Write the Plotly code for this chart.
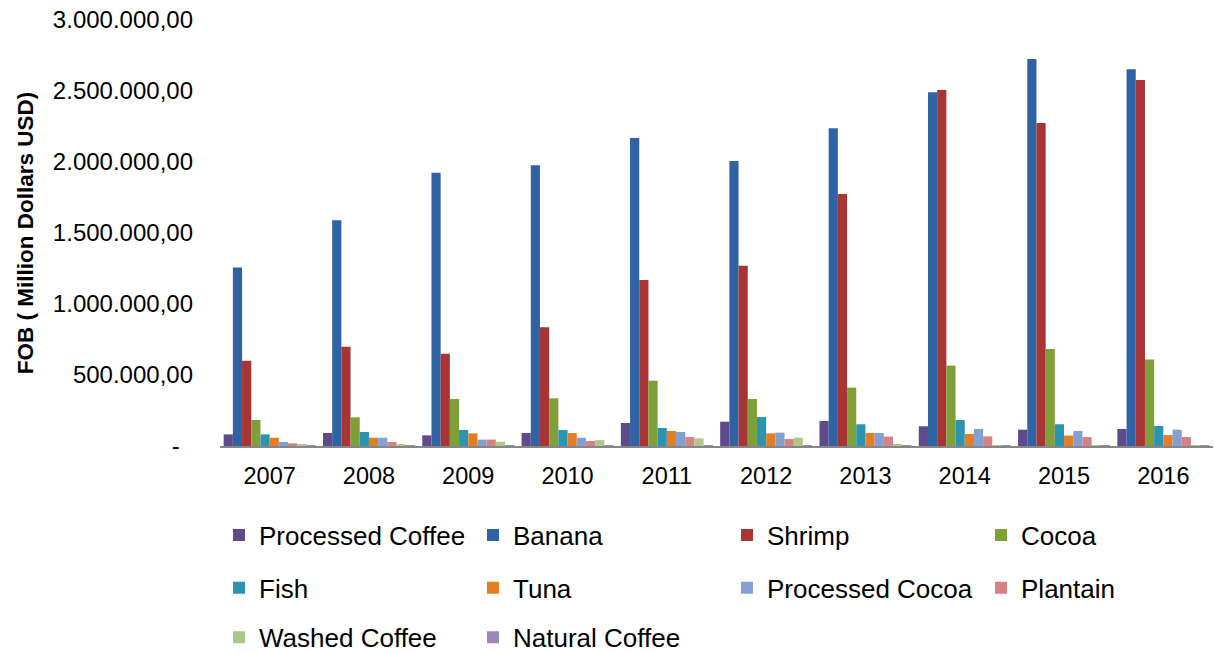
import plotly.graph_objects as go

years = ["2007", "2008", "2009", "2010", "2011", "2012", "2013", "2014", "2015", "2016"]

processed_coffee = [82000, 92000, 75000, 92000, 162000, 171000, 176000, 139000, 115000, 120000]
banana = [1257000, 1589000, 1925000, 1977000, 2169000, 2007000, 2237000, 2491000, 2725000, 2653000]
shrimp = [601000, 699000, 650000, 836000, 1169000, 1270000, 1775000, 2507000, 2275000, 2577000]
cocoa = [183000, 202000, 331000, 336000, 460000, 331000, 411000, 566000, 683000, 610000]
fish = [82000, 99000, 113000, 113000, 127000, 204000, 153000, 183000, 153000, 141000]
tuna = [58000, 58000, 89000, 92000, 106000, 89000, 92000, 85000, 73000, 77000]
processed_cocoa = [28000, 58000, 45000, 58000, 99000, 94000, 92000, 120000, 106000, 115000]
plantain = [19000, 28000, 45000, 35000, 63000, 49000, 66000, 68000, 63000, 63000]
washed_coffee = [8000, 8000, 30000, 42000, 54000, 58000, 14000, 7000, 5000, 3000]
natural_coffee = [2000, 2000, 2000, 2000, 2000, 2000, 2000, 1000, 1000, 1000]

series = [
    ("Processed Coffee", processed_coffee, "#5F4A8A", "legend"),
    ("Banana", banana, "#2F63A4", "legend"),
    ("Shrimp", shrimp, "#A83434", "legend"),
    ("Cocoa", cocoa, "#7FA038", "legend"),
    ("Fish", fish, "#2A94B2", "legend2"),
    ("Tuna", tuna, "#E57E22", "legend2"),
    ("Processed Cocoa", processed_cocoa, "#84A0D2", "legend2"),
    ("Plantain", plantain, "#D38383", "legend2"),
    ("Washed Coffee", washed_coffee, "#ADC98A", "legend3"),
    ("Natural Coffee", natural_coffee, "#9C89B8", "legend3"),
]

y_tickvals = [0, 500000, 1000000, 1500000, 2000000, 2500000, 3000000]
y_ticktext = ["-\u00a0\u00a0", "500.000,00", "1.000.000,00", "1.500.000,00",
              "2.000.000,00", "2.500.000,00", "3.000.000,00"]

FONT = "Liberation Sans, Arial, sans-serif"

fig = go.Figure()
for name, vals, color, lg in series:
    fig.add_trace(go.Bar(x=years, y=vals, name=name, marker=dict(color=color, line=dict(width=0)),
                         legend=lg))

legend_common = dict(orientation="h", xanchor="left", yanchor="middle", x=-0.001,
                     entrywidth=209, entrywidthmode="pixels",
                     font=dict(family=FONT, size=26, color="#000000"),
                     bgcolor="rgba(0,0,0,0)", traceorder="normal")

fig.update_layout(
    width=1215, height=653,
    margin=dict(l=220, r=2, t=20, b=207, autoexpand=False),
    paper_bgcolor="white", plot_bgcolor="white",
    barmode="group", bargap=0.074, bargroupgap=0,
    font=dict(family=FONT, color="#000000"),
    xaxis=dict(showline=True, linecolor="#868686", linewidth=2, ticks="", showgrid=False,
               tickfont=dict(size=23.5, family=FONT), ticklabelstandoff=8, zeroline=False),
    yaxis=dict(range=[0, 3000000], tickvals=y_tickvals, ticktext=y_ticktext, showgrid=False,
               zeroline=False, showline=False, ticks="", tickfont=dict(size=24, family=FONT),
               ticklabelstandoff=26,
               title=dict(text="<b>FOB ( Million Dollars USD)</b>", font=dict(size=22.5, family=FONT),
                          standoff=12)),
    legend=dict(legend_common, y=-0.209),
    legend2=dict(legend_common, y=-0.333),
    legend3=dict(legend_common, y=-0.449),
)

fig.write_html("out.html")
